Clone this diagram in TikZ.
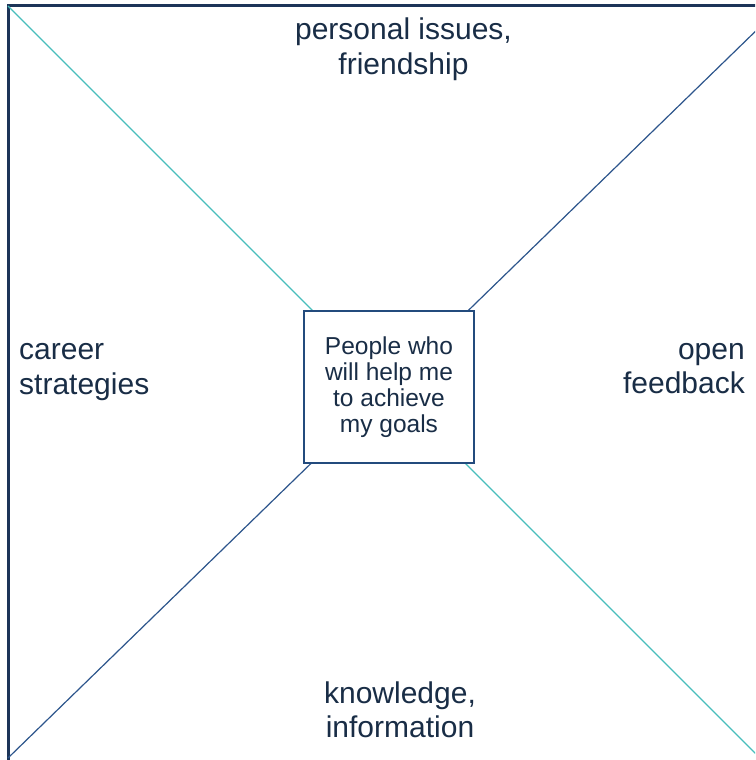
\documentclass[tikz,border=0pt]{standalone}
\usepackage{fontspec}
\setmainfont{Liberation Sans}
\definecolor{frameblue}{RGB}{28,52,88}
\definecolor{boxblue}{RGB}{35,75,125}
\definecolor{diagteal}{RGB}{72,190,188}
\definecolor{diagblue}{RGB}{45,85,140}
\definecolor{txtnavy}{RGB}{25,45,70}
\tikzset{
  biglabel/.style={text=txtnavy, inner sep=0pt, font=\fontsize{30}{34.5}\selectfont},
  hubbox/.style={draw=boxblue, line width=2.4pt, fill=white, minimum width=170pt, minimum height=152pt, inner sep=0pt},
  hubtextstyle/.style={text=txtnavy, inner sep=0pt, align=center, font=\fontsize{24.5}{26}\selectfont},
  tealline/.style={draw=diagteal, line width=1.2pt},
  blueline/.style={draw=diagblue, line width=1.2pt},
  outerframe/.style={draw=frameblue, line width=3pt}
}
\begin{document}
\begin{tikzpicture}[x=1pt,y=-1pt]
\useasboundingbox (0,0) rectangle (755,760);
\clip (0,0) rectangle (755,760);
\fill[white] (0,0) rectangle (755,760);
% corners
\coordinate (tl) at (8,6);
\coordinate (br) at (800,798);
\coordinate (bl) at (8,758);
\coordinate (tr) at (800,-12);
\coordinate (farcorner) at (820,820);
% frame
\draw[outerframe] (tl) rectangle (farcorner);
% diagonals
\draw[tealline] (tl) -- (br);
\draw[blueline] (bl) -- (tr);
% central box
\node[hubbox] (hub) at (389,387) {};
\node[hubtextstyle] (hubtext) at (hub.center) {People who\\will help me\\to achieve\\my goals};
% labels
\node[biglabel, align=center] (top) at (403.5,49) {personal issues,\\friendship};
\node[biglabel, align=left, anchor=west] (left) at (19,372) {career\\strategies};
\node[biglabel, align=right, anchor=east] (right) at (745,368.5) {open\\feedback};
\node[biglabel, align=center] (bottom) at (400,710) {knowledge,\\information};
\end{tikzpicture}
\end{document}
